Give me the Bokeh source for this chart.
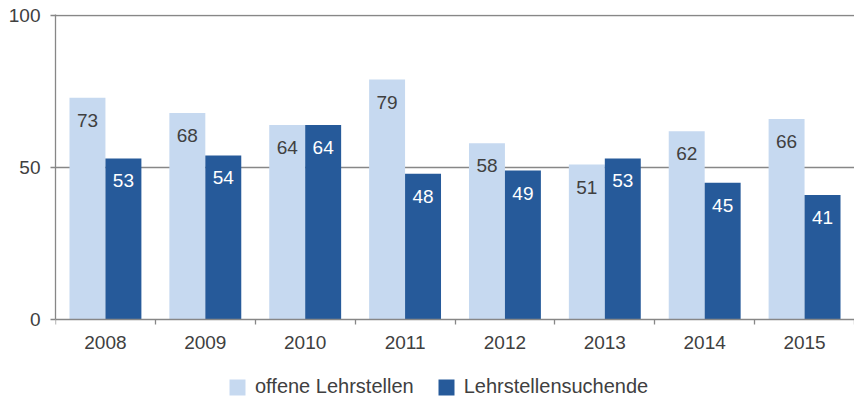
import numpy as np
from bokeh.plotting import figure
from bokeh.models import ColumnDataSource, FixedTicker, Range1d, Legend, LegendItem
from bokeh.core.properties import value
from bokeh.transform import dodge
from bokeh.embed import file_html
from bokeh.resources import INLINE

years = ["2008", "2009", "2010", "2011", "2012", "2013", "2014", "2015"]
offene = [73, 68, 64, 79, 58, 51, 62, 66]
suchende = [53, 54, 64, 48, 49, 53, 45, 41]
y_ticks = [0, 50, 100]
series_names = ["offene Lehrstellen", "Lehrstellensuchende"]

LIGHT = "#c6d9f0"
DARK = "#265a9a"
GRAY = "#878787"
TEXT = "#404040"
FONT = "Liberation Sans"

x = list(range(len(years)))
src = ColumnDataSource(dict(
    x=x, offene=offene, suchende=suchende,
    lo=[str(v) for v in offene], ls=[str(v) for v in suchende],
))

# the frame extends below zero to hold the category labels and the legend
p = figure(frame_width=799, frame_height=390, output_backend="svg", toolbar_location=None,
           x_range=Range1d(-0.5, len(years) - 0.5), y_range=Range1d(-28, 100.4),
           min_border_left=55, min_border_right=0, min_border_top=14, min_border_bottom=0)
p.outline_line_color = None
p.background_fill_color = "white"

r1 = p.vbar(x=dodge("x", -0.18, range=p.x_range), top="offene", width=0.36, source=src,
            fill_color=LIGHT, line_color=None)
r2 = p.vbar(x=dodge("x", 0.18, range=p.x_range), top="suchende", width=0.36, source=src,
            fill_color=DARK, line_color=None)

p.text(x=dodge("x", -0.18, range=p.x_range), y="offene", text="lo", source=src,
       text_align="center", text_baseline="top", y_offset=16,
       text_font=value(FONT), text_font_size="19px", text_color=TEXT)
p.text(x=dodge("x", 0.18, range=p.x_range), y="suchende", text="ls", source=src,
       text_align="center", text_baseline="top", y_offset=16,
       text_font=value(FONT), text_font_size="19px", text_color="white")

# grid
p.xgrid.visible = False
p.ygrid.ticker = FixedTicker(ticks=[t for t in y_ticks if t > 0])
p.ygrid.grid_line_color = GRAY
p.ygrid.grid_line_width = 1.3
p.ygrid.level = "underlay"

# y axis
ya = p.yaxis[0]
ya.ticker = FixedTicker(ticks=y_ticks)
ya.bounds = (0, 100.4)
ya.axis_line_color = GRAY
ya.axis_line_width = 1.3
ya.major_tick_line_color = GRAY
ya.major_tick_line_width = 1.3
ya.major_tick_out = 5
ya.major_tick_in = 0
ya.minor_tick_line_color = None
ya.major_label_standoff = 10
ya.major_label_text_font = FONT
ya.major_label_text_font_size = "19px"
ya.major_label_text_color = TEXT

# x axis, drawn at y = 0
xa = p.xaxis[0]
xa.fixed_location = 0
bounds = [i - 0.5 for i in x] + [x[-1] + 0.5]
xa.ticker = FixedTicker(ticks=x, minor_ticks=bounds)
xa.major_label_overrides = {i: y for i, y in zip(x, years)}
xa.axis_line_color = GRAY
xa.axis_line_width = 1.3
xa.major_tick_line_color = None
xa.major_tick_out = 0
xa.major_tick_in = 0
xa.minor_tick_line_color = GRAY
xa.minor_tick_line_width = 1.3
xa.minor_tick_out = 5
xa.minor_tick_in = 0
xa.major_label_standoff = 12
xa.major_label_text_font = FONT
xa.major_label_text_font_size = "19px"
xa.major_label_text_color = TEXT

legend = Legend(items=[LegendItem(label=series_names[0], renderers=[r1]),
                       LegendItem(label=series_names[1], renderers=[r2])],
                orientation="horizontal", location=(172, 6),
                label_text_font=FONT, label_text_font_size="20px", label_text_color=TEXT,
                glyph_width=20, glyph_height=20, label_standoff=8, spacing=22,
                border_line_color=None, background_fill_alpha=0,
                margin=0, padding=0)
p.add_layout(legend, "center")

open("out.html", "w").write(file_html(p, INLINE))
